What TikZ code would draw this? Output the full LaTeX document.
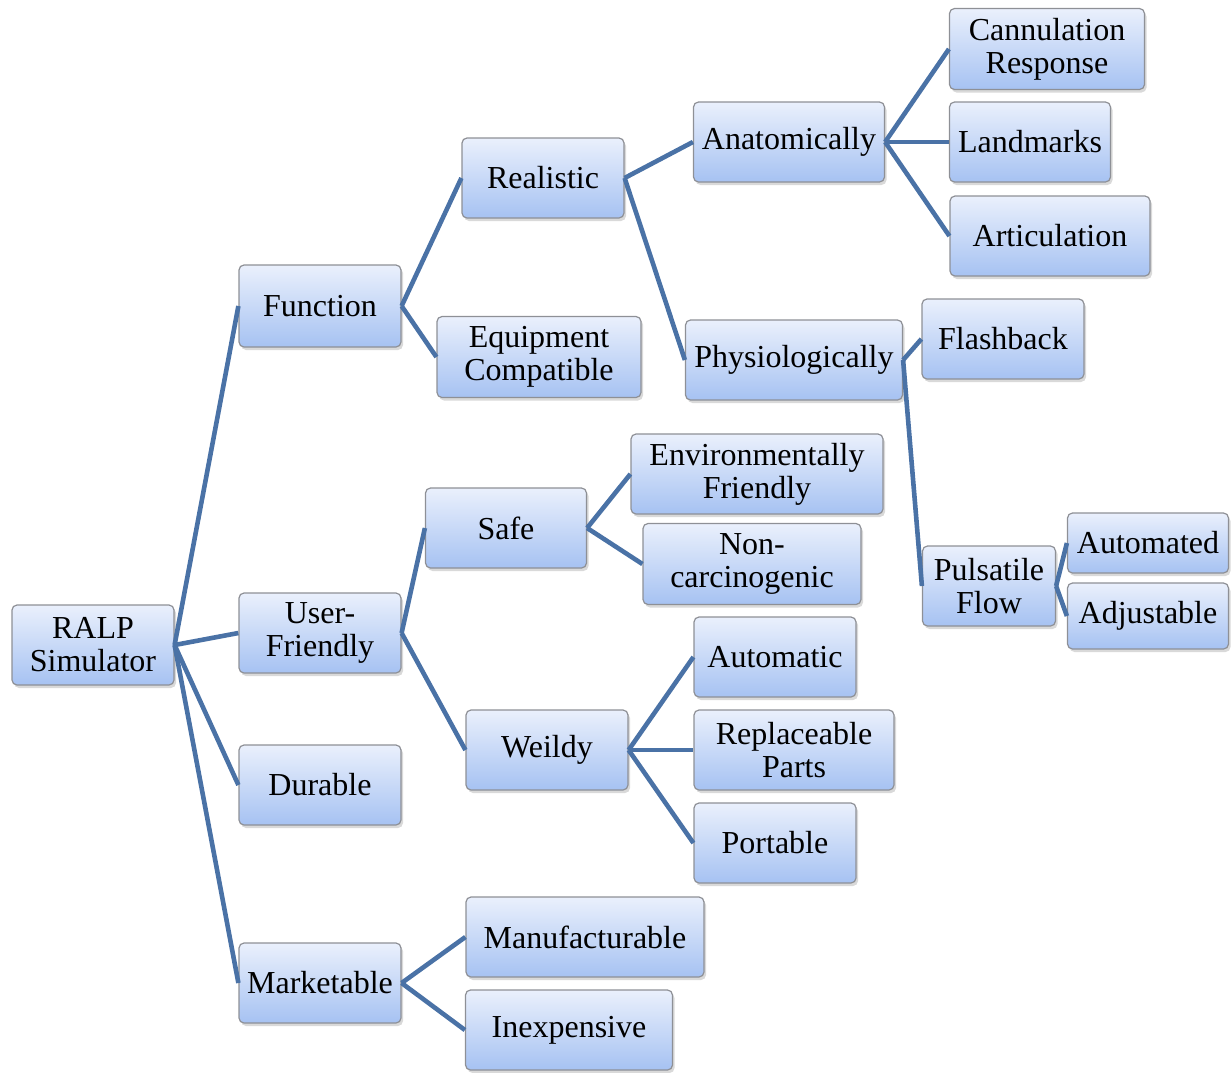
\documentclass[tikz,border=0pt]{standalone}
\usepackage{fontspec}
\setmainfont{Liberation Serif}
\usetikzlibrary{shadows}
\definecolor{boxtop}{HTML}{EAF0FC}
\definecolor{boxbot}{HTML}{A6C2F2}
\definecolor{boxline}{HTML}{8E9096}
\definecolor{linkblue}{HTML}{4A72A6}
\tikzset{
	box/.style={draw=boxline, line width=1.2pt, rounded corners=5pt,
		top color=boxtop, bottom color=boxbot, align=center, inner sep=0pt,
		drop shadow={shadow xshift=2pt, shadow yshift=-3pt, opacity=0.3},
		font=\fontsize{32}{33}\selectfont},
	link/.style={draw=linkblue, line width=4.6pt}
}
\newcommand{\bx}[6]{\node[box, minimum width=#4pt, minimum height=#5pt] (#1) at (#2,#3) {#6};}

\begin{document}
\begin{tikzpicture}[x=1pt, y=-1pt]
	\useasboundingbox (0,0) rectangle (1231,1072);
	% root and first level
	\bx{ralp}{93}{645}{162}{80}{RALP\\Simulator}
	\bx{func}{320}{306}{162}{82}{Function}
	\bx{user}{320}{633}{162}{80}{User-\\Friendly}
	\bx{dura}{320}{785}{162}{80}{Durable}
	\bx{mark}{320}{983}{162}{80}{Marketable}
	% function branch
	\bx{real}{543}{178}{162}{80}{Realistic}
	\bx{equip}{539}{357}{204}{81}{Equipment\\Compatible}
	\bx{anat}{789}{142}{191}{80}{Anatomically}
	\bx{phys}{794}{360}{217}{80}{Physiologically}
	\bx{cann}{1047}{49}{195}{81}{Cannulation\\Response}
	\bx{land}{1030}{142}{161}{80}{Landmarks}
	\bx{arti}{1050}{236}{200}{80}{Articulation}
	\bx{flash}{1003}{339}{162}{80}{Flashback}
	\bx{puls}{989}{586}{133}{80}{Pulsatile\\Flow}
	\bx{autd}{1148}{543}{161}{60}{Automated}
	\bx{adj}{1148}{616}{161}{66}{Adjustable}
	% user-friendly branch
	\bx{safe}{506}{528}{161}{80}{Safe}
	\bx{weil}{547}{750}{162}{80}{Weildy}
	\bx{env}{757}{474}{252}{80}{Environmentally\\Friendly}
	\bx{nonc}{752}{564}{218}{81}{Non-\\carcinogenic}
	\bx{autc}{775}{657}{162}{80}{Automatic}
	\bx{repl}{794}{750}{200}{80}{Replaceable\\Parts}
	\bx{port}{775}{843}{162}{80}{Portable}
	% marketable branch
	\bx{manu}{585}{937}{238}{80}{Manufacturable}
	\bx{inex}{569}{1030}{207}{80}{Inexpensive}
	% connectors
	\foreach \a/\b in {ralp/func, ralp/user, ralp/dura, ralp/mark,
		func/real, func/equip, real/anat, real/phys,
		anat/cann, anat/land, anat/arti, phys/flash, phys/puls,
		puls/autd, puls/adj, user/safe, user/weil,
		safe/env, safe/nonc, weil/autc, weil/repl, weil/port,
		mark/manu, mark/inex}
		\draw[link] (\a.east) -- (\b.west);
\end{tikzpicture}
\end{document}
